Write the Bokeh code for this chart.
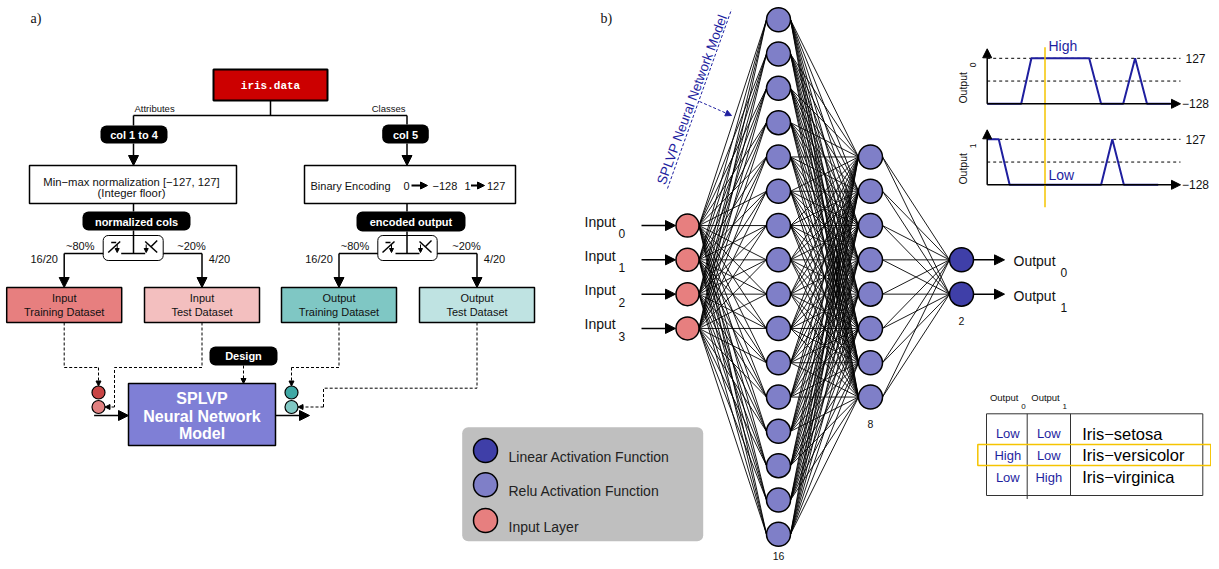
import math
import numpy as np
from bokeh.plotting import figure
from bokeh.models import Range1d, BoxAnnotation, Arrow, NormalHead
from bokeh.core.properties import value
from bokeh.embed import file_html
from bokeh.resources import INLINE

# ---------------- chart content ----------------
panel_tags = ["a)", "b)"]
source_name = "iris.data"
branch_names = ["Attributes", "Classes"]
column_tags = ["col 1 to 4", "col 5"]
norm_lines = ["Min\u2212max normalization [\u2212127, 127]", "(Integer floor)"]
encoding_name = "Binary Encoding"
encoding_in = ["0", "1"]
encoding_out = ["\u2212128", "127"]
stream_tags = ["normalized cols", "encoded output"]
split_pcts = ["~80%", "~20%"]
split_counts = ["16/20", "4/20"]
dataset_titles = ["Input", "Input", "Output", "Output"]
dataset_kinds = ["Training Dataset", "Test Dataset", "Training Dataset", "Test Dataset"]
model_lines = ["SPLVP", "Neural Network", "Model"]
design_tag = "Design"

layer_sizes = [4, 16, 8, 2]
input_subs = ["0", "1", "2", "3"]
output_subs = ["0", "1"]
model_caption = "SPLVP Neural Network Model"
legend_labels = ["Linear Activation Function", "Relu Activation Function", "Input Layer"]

wave_levels = [-128, 127]
out0_t = [0, 10, 13, 30, 33.5, 40, 43.5, 47, 54]
out0_v = [-128, -128, 127, 127, -128, -128, 127, -128, -128]
out1_t = [0, 3.4, 6.6, 33.5, 36.8, 40.2, 50.3]
out1_v = [127, 127, -128, -128, 127, -128, -128]
sample_t = 17
level_names = {127: "High", -128: "Low"}

table_out0 = ["Low", "High", "Low"]
table_out1 = ["Low", "Low", "High"]
table_class = ["Iris\u2212setosa", "Iris\u2212versicolor", "Iris\u2212virginica"]
highlight_row = 1

# ---------------- styles ----------------
SANS, SERIF, MONO = "Liberation Sans", "Liberation Serif", "Liberation Mono"
RED_BOX = "#cc0000"
DS_COLORS = ["#e77f7f", "#f3bfbf", "#7fc7c4", "#bfe3e2"]
MODEL_C = "#7f7fd6"
RELU_C = "#7f7fc8"
LINEAR_C = "#3f3fa8"
INPUT_C = "#e77f7f"
DOT_COLORS = ["#c84444", "#e08080", "#3fa8a5", "#80c8c4"]
GRAY = "#bfbfbf"
BLUE = "#1f1f9f"
GOLD = "#f5c400"
INK = "#111111"

W, H = 1211, 561
p = figure(width=W, height=H, x_range=Range1d(0, W), y_range=Range1d(H, 0),
           output_backend="svg", toolbar_location=None, x_axis_type=None, y_axis_type=None,
           min_border=0, outline_line_color=None, background_fill_color="white")
p.grid.visible = False


def txt(xs, ys, ts, size, color=INK, align="center", style="normal", font=SANS, angle=0.0):
    p.text(x=list(xs), y=list(ys), text=list(ts), text_font=value(font),
           text_font_size=value(f"{size}px"), text_color=color, text_align=align,
           text_baseline="middle", text_font_style=style, angle=angle)


def rbox(l, r, t, b, fill=None, line=None, lw=1.5, radius=6):
    p.add_layout(BoxAnnotation(left=l, right=r, top=t, bottom=b,
                               fill_color=fill, fill_alpha=1.0 if fill else 0.0,
                               line_color=line, line_alpha=1.0 if line else 0.0,
                               line_width=lw, border_radius=radius, level="underlay"))


def arrow(x0, y0, x1, y1, size=10, lw=1.5, color="black", dash="solid"):
    p.add_layout(Arrow(end=NormalHead(size=size, fill_color=color, line_color=color, line_width=1),
                       x_start=x0, y_start=y0, x_end=x1, y_end=y1,
                       line_color=color, line_width=lw, line_dash=dash))


solid = []
dashed = []


def seg(xs, ys):
    solid.append((list(xs), list(ys)))


def dseg(xs, ys):
    dashed.append((list(xs), list(ys)))


# ================= panel a) =================
txt([30], [18], [panel_tags[0]], 14, font=SERIF, align="left")

p.quad(left=[213], right=[327], top=[69], bottom=[100], fill_color=RED_BOX,
       line_color="black", line_width=2)
txt([270], [85], [source_name], 11, "white", style="bold", font=MONO)

col_x = [133, 406.5]
seg([270, 270], [100, 115])
seg([col_x[0], col_x[1]], [115, 115])
txt([134], [107.5], [branch_names[0]], 9.5, align="left")
txt([405], [107.5], [branch_names[1]], 9.5, align="right")

tag_pills = [(100, 167, 125, 143), (381.7, 428.3, 124, 143)]
proc_boxes = [(29, 236, 165, 203), (304, 515, 165, 203)]
stream_pills = [(82, 190, 211, 230), (356, 465, 211, 231)]
switch_boxes = [(102.7, 162.7, 235, 260), (377.3, 436.7, 235, 260)]
ds_centers = [63.7, 201.5, 338.5, 476.5]
SPLIT_Y = 253

for k in range(2):
    cx = col_x[k]
    l, r, t, b = tag_pills[k]
    rbox(l, r, t, b, fill="black", radius=6)
    txt([(l + r) / 2], [(t + b) / 2 + 0.5], [column_tags[k]], 11, "white", style="bold")
    seg([cx, cx], [115, t])
    arrow(cx, b, cx, 165, size=10)
    l, r, t, b = proc_boxes[k]
    p.quad(left=[l], right=[r], top=[t], bottom=[b], fill_color="white",
           line_color="black", line_width=1.5)
    l, r, t, b = stream_pills[k]
    seg([cx, cx], [203, t])
    rbox(l, r, t, b, fill="black", radius=6)
    txt([(l + r) / 2], [(t + b) / 2 + 0.5], [stream_tags[k]], 11, "white", style="bold")
    seg([cx, cx], [b, SPLIT_Y])
    l, r, t, b = switch_boxes[k]
    rbox(l, r, t, b, line="black", lw=1, radius=5)
    sc = (l + r) / 2
    lc, rc = ds_centers[2 * k], ds_centers[2 * k + 1]
    seg([lc, l], [SPLIT_Y, SPLIT_Y])
    seg([r, rc], [SPLIT_Y, SPLIT_Y])
    seg([sc - 12, sc + 12], [SPLIT_Y, SPLIT_Y])
    # switch symbols
    seg([sc - 25, sc - 13], [SPLIT_Y - 1, 241])
    seg([sc - 22, sc - 17], [242, 242])
    arrow(sc - 16, 244, sc - 16, 252, size=4, lw=1)
    seg([sc + 12, sc + 24], [241, SPLIT_Y - 1])
    seg([sc + 18, sc + 24], [246, 240])
    arrow(sc + 13, 244, sc + 13, 252, size=4, lw=1)
    arrow(lc, SPLIT_Y, lc, 287, size=10)
    arrow(rc, SPLIT_Y, rc, 287, size=10)
    txt([lc + 16, rc - 10.5], [245, 245], split_pcts, 11)
    txt([lc - 20, rc + 17.5], [258, 258], split_counts, 11)

txt([131, 131], [181, 192.7], norm_lines, 11.3)
txt([310], [185], [encoding_name], 11, align="left")
txt([403, 464], [185, 185], encoding_in, 11, align="left")
txt([432, 486.5], [185, 185], encoding_out, 11, align="left")
arrow(411, 185, 427, 185, size=7, lw=2)
arrow(470.5, 185, 484, 185, size=7, lw=2)

for i, c in enumerate(ds_centers):
    p.quad(left=[c - 57.5], right=[c + 57.5], top=[287], bottom=[322], fill_color=DS_COLORS[i],
           line_color="black", line_width=1.5)
    txt([c, c], [297.3, 311], [dataset_titles[i], dataset_kinds[i]], 11)

# model
p.quad(left=[128], right=[275], top=[383], bottom=[445], fill_color=MODEL_C,
       line_color="black", line_width=1.5)
txt([201.5] * 3, [398, 415.5, 433], model_lines, 16, "white", style="bold")
rbox(209, 277, 346, 365, fill="black", radius=6)
txt([243], [355.5], [design_tag], 11, "white", style="bold")

arrow(93.6, 415, 128, 415, size=10)
arrow(275, 415, 309, 415, size=10)

dseg([ds_centers[0], ds_centers[0], 98], [322, 367, 367])
arrow(98, 367, 98, 385.5, size=5, lw=1, dash="3 2")
dseg([ds_centers[1], ds_centers[1], 114, 114], [322, 367, 367, 406.5])
arrow(114, 406.5, 104.5, 406.5, size=5, lw=1, dash="3 2")
arrow(243, 365, 243, 383, size=5, lw=1, dash="3 2")
dseg([ds_centers[2], ds_centers[2], 291], [322, 367, 367])
arrow(291, 367, 291, 385.5, size=5, lw=1, dash="3 2")
dseg([ds_centers[3], ds_centers[3], 323, 323], [322, 387.7, 387.7, 406.5])
arrow(323, 406.5, 297.5, 406.5, size=5, lw=1, dash="3 2")

p.multi_line(xs=[s[0] for s in solid], ys=[s[1] for s in solid], line_color="black", line_width=1.5)
p.multi_line(xs=[s[0] for s in dashed], ys=[s[1] for s in dashed], line_color="black",
             line_width=1, line_dash="3 2")

p.scatter(x=[98, 98, 291, 291], y=[392, 406.5, 392, 406.5], size=13, fill_color=DOT_COLORS,
          line_color="black", line_width=1.2)

# ================= panel b) =================
txt([600], [18], [panel_tags[1]], 14, font=SERIF, align="left")

layer_x = [687, 778, 870, 961]
radii = [11.5, 12, 12, 12]
SP, CY = 34.3, 276.5
layer_y = [[CY + (i - (n - 1) / 2) * SP for i in range(n)] for n in layer_sizes]

x0s, y0s, x1s, y1s = [], [], [], []
for L in range(len(layer_sizes) - 1):
    for ya in layer_y[L]:
        for yb in layer_y[L + 1]:
            x0s.append(layer_x[L] + radii[L]); y0s.append(ya)
            x1s.append(layer_x[L + 1] - radii[L + 1]); y1s.append(yb)
p.segment(x0=x0s, y0=y0s, x1=x1s, y1=y1s, line_color="black", line_width=0.9)

node_colors = [INPUT_C, RELU_C, RELU_C, LINEAR_C]
for L in range(len(layer_sizes)):
    p.scatter(x=[layer_x[L]] * layer_sizes[L], y=layer_y[L], size=2 * radii[L],
              fill_color=node_colors[L], line_color="black", line_width=1.5)
    if L > 0:
        ly = min(layer_y[L][-1] + 27, 555.5)
        txt([layer_x[L]], [ly], [str(layer_sizes[L])], 10.5)

for i, y in enumerate(layer_y[0]):
    arrow(641, y, 675, y, size=10)
    txt([584], [y - 4], ["Input"], 14, align="left")
    txt([618], [y + 8], [input_subs[i]], 12, align="left")
for i, y in enumerate(layer_y[3]):
    arrow(973, y, 1004, y, size=10)
    txt([1013], [y + 1.5], ["Output"], 14, align="left")
    txt([1060], [y + 13], [output_subs[i]], 12, align="left")

# caption for the model
txt([691.5], [99], [model_caption], 13.5, BLUE, angle=math.radians(69.8))
p.line(x=[667, 731], y=[188, 9], line_color=BLUE, line_width=1, line_dash="3 2")
arrow(699, 101, 731, 115, size=6, lw=1, color=BLUE, dash="3 2")

# legend
rbox(461.7, 702.7, 426.7, 540.7, fill=GRAY, radius=6)
leg_y = [450, 484.3, 520]
p.scatter(x=[485] * 3, y=leg_y, size=24, fill_color=[LINEAR_C, RELU_C, INPUT_C],
          line_color="black", line_width=1.5)
txt([508] * 3, [y + 6 for y in leg_y], legend_labels, 14, "#222222", align="left")

# waveforms
X0, TU, AMP, X_END = 986.7, 3.4, 45.5, 1180
bases = [103.3, 184.3]
waves = [(out0_t, out0_v), (out1_t, out1_v)]


def wy(v, base):
    return base - (v - wave_levels[0]) / (wave_levels[1] - wave_levels[0]) * AMP


for k, (ts, vs) in enumerate(waves):
    base = bases[k]
    top = wy(wave_levels[1], base)
    mid = (top + base) / 2
    p.multi_line(xs=[[X0, X_END], [X0, X_END]], ys=[[top, top], [mid, mid]],
                 line_color="black", line_width=1, line_dash="3 3")
    arrow(X0, base, X0, base - 55, size=9, lw=1.5)
    arrow(X0, base, X_END, base, size=9, lw=1.5)
    p.line(x=[X0 + t * TU for t in ts], y=[wy(v, base) for v in vs], line_color=BLUE, line_width=2)
    txt([1185], [top], [str(wave_levels[1])], 12, align="left")
    txt([1181.5], [base], ["\u2212" + str(-wave_levels[0])], 12, align="left")
    txt([962.5], [base - 16], ["Output"], 10.5, angle=math.pi / 2)
    txt([972], [base - 39], [output_subs[k]], 8.5, angle=math.pi / 2)
    v_at = int(round(np.interp(sample_t, ts, vs)))
    off = 12 if v_at == wave_levels[1] else 9.5
    txt([X0 + sample_t * TU + 3.5], [wy(v_at, base) - off], [level_names[v_at]], 14, BLUE, align="left")

p.line(x=[X0 + sample_t * TU] * 2, y=[46.7, 206.7], line_color=GOLD, line_width=1.5)

# table
T_L, T_R, T_T, T_B = 986, 1202.3, 413.3, 495
C1, C2 = 1026.7, 1070
p.quad(left=[T_L], right=[T_R], top=[T_T], bottom=[T_B], fill_color=None,
       line_color="#333333", line_width=1)
p.multi_line(xs=[[C1, C1], [C2, C2]], ys=[[T_T, 498.5], [T_T, T_B]], line_color="#333333", line_width=1)
row_y = [433.3, 454.5, 476.5]
txt([1007.3] * 3, row_y, table_out0, 13, BLUE)
txt([1048.3] * 3, row_y, table_out1, 13, BLUE)
txt([1081.7] * 3, row_y, table_class, 16.5, "black", align="left")
txt([1003.7, 1045], [397.3, 397.3], ["Output", "Output"], 9.5)
txt([1023, 1064.3], [405.5, 405.5], output_subs, 8)
hy = row_y[highlight_row]
p.quad(left=[977.3], right=[1210.3], top=[hy - 10.5], bottom=[hy + 10.5], fill_color=None,
       line_color=GOLD, line_width=1.5)

open("out.html", "w").write(file_html(p, INLINE))
